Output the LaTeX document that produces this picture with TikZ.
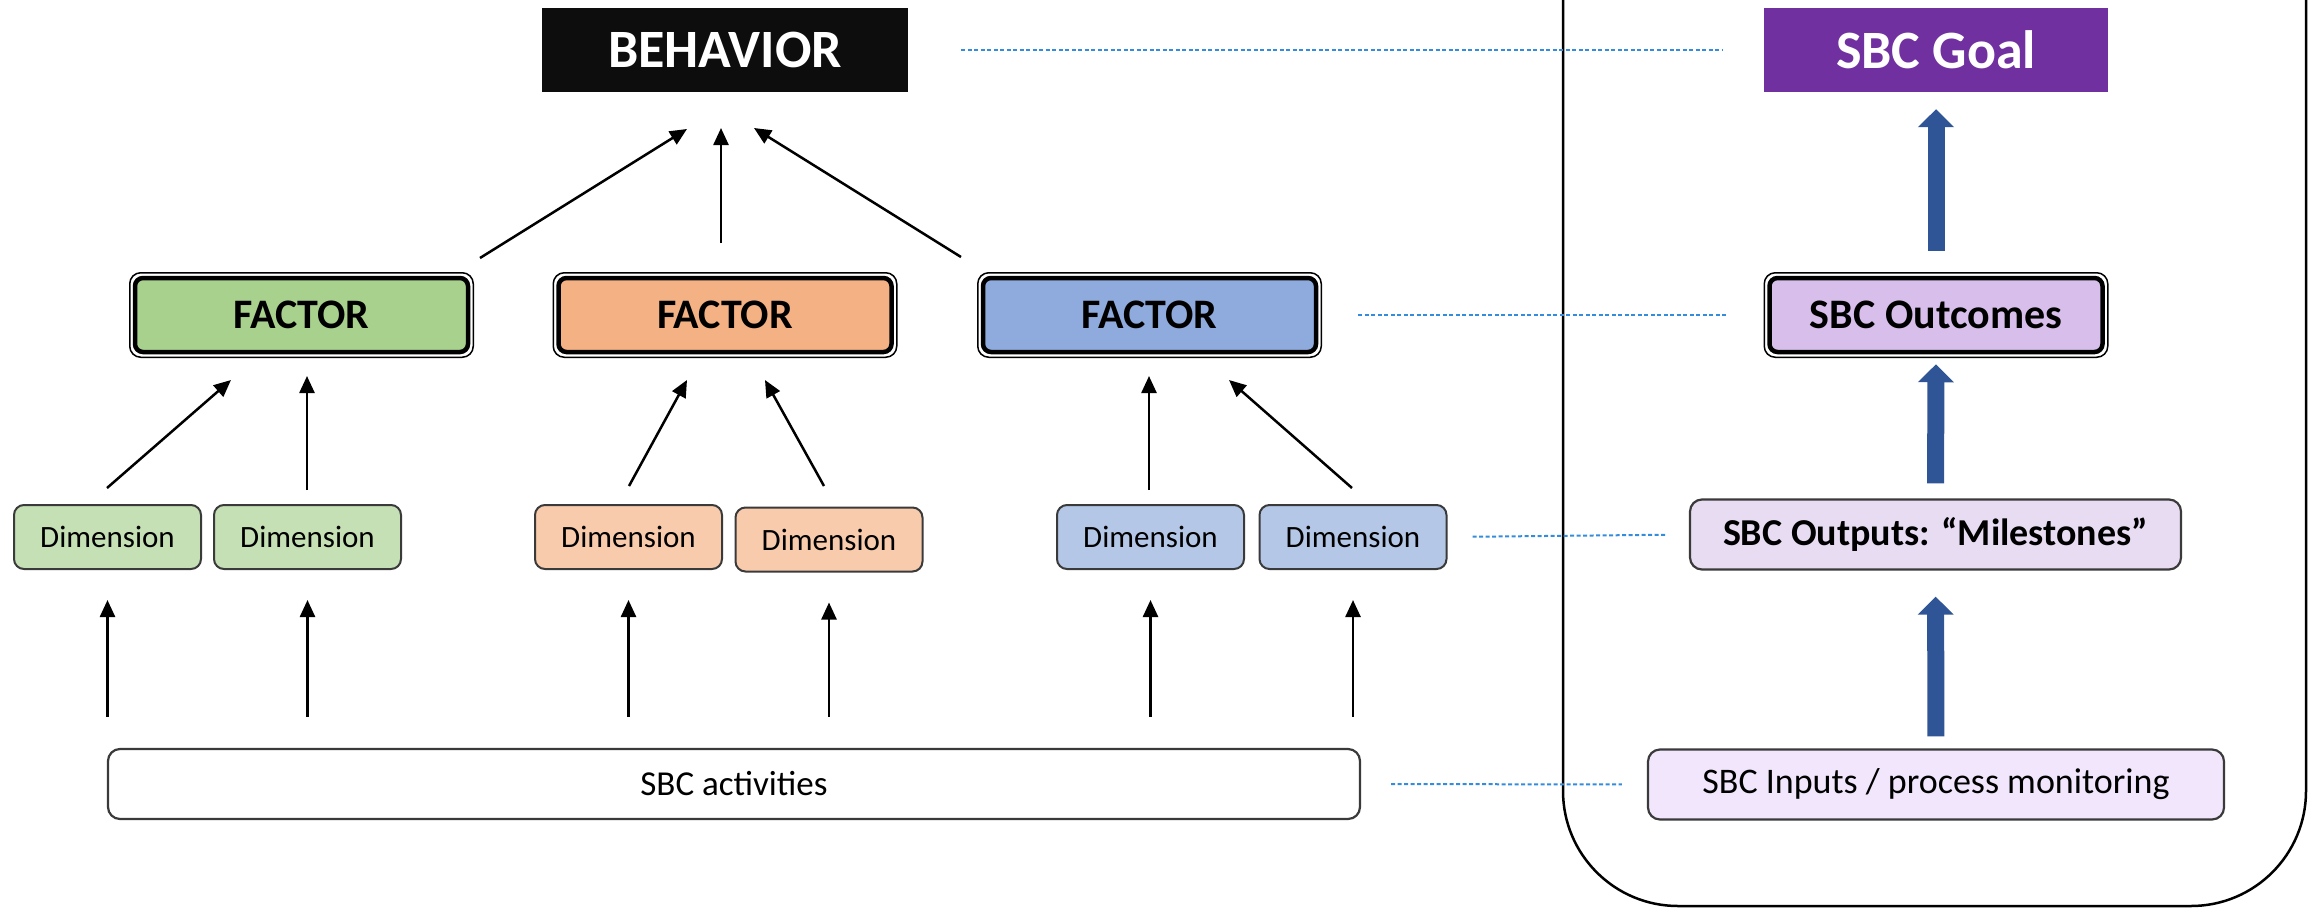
\documentclass[tikz,border=0pt]{standalone}
\usepackage{fontspec}
\setmainfont{Carlito}
\usetikzlibrary{arrows.meta,calc}
\definecolor{fgreen}{HTML}{A9D18E}
\definecolor{dgreen}{HTML}{C5E0B4}
\definecolor{forange}{HTML}{F4B183}
\definecolor{dorange}{HTML}{F8CBAD}
\definecolor{fblue}{HTML}{8FAADC}
\definecolor{dblue}{HTML}{B4C7E7}
\definecolor{goalpurple}{HTML}{7030A0}
\definecolor{outcomesfill}{HTML}{D8BFEB}
\definecolor{outputsfill}{HTML}{E8DCF3}
\definecolor{inputsfill}{HTML}{F1E6FC}
\definecolor{bigblue}{HTML}{2F5597}
\definecolor{dotblue}{HTML}{348CDC}
\definecolor{boxline}{HTML}{3A3A3A}
\begin{document}
\begin{tikzpicture}[x=1pt,y=-1pt,
  topbox/.style={rectangle, inner sep=0pt, minimum height=84pt, text=white, font=\bfseries\fontsize{54}{60}\selectfont},
  factorbox/.style={rectangle, draw=black, line width=4.5pt, rounded corners=8pt, minimum width=333pt, minimum height=74pt, inner sep=0pt, font=\bfseries\fontsize{42}{48}\selectfont},
  framebox/.style={draw=black, line width=1.5pt, rounded corners=11pt},
  dimbox/.style={rectangle, draw=boxline, line width=2pt, rounded corners=10pt, minimum width=187pt, minimum height=64pt, inner sep=0pt, font=\fontsize{31}{36}\selectfont},
  widebox/.style={rectangle, draw=boxline, line width=2.2pt, rounded corners=12pt, minimum height=70pt, inner sep=0pt},
  blk/.style={draw=black, line width=2.5pt, -{Triangle[length=17pt 0, width=15pt 0]}},
  bigarrow/.style={draw=bigblue, line width=17pt, -{Triangle[length=18pt 0, width=35pt 0]}},
  dotline/.style={draw=dotblue, line width=2pt, dash pattern=on 4pt off 2.5pt},
  container/.style={draw=black, line width=2.5pt, rounded corners=115pt}
]
\useasboundingbox (0,0) rectangle (2318,908);

% container
\draw[container] (1563,-5) -- (1563,906) -- (2306,906) -- (2306,-5);

% top boxes
\node[topbox, fill={rgb,255:red,13;green,13;blue,13}, minimum width=366pt] (beh) at (725,50) {BEHAVIOR};
\node[topbox, fill=goalpurple, minimum width=344pt] (goal) at (1936,50) {SBC Goal};

% factor boxes
\node[factorbox, fill=fgreen] (fg) at (301.5,315) {FACTOR};
\node[factorbox, fill=forange] (fo) at (725,315) {FACTOR};
\node[factorbox, fill=fblue] (fb) at (1149.5,315) {FACTOR};
\node[factorbox, fill=outcomesfill] (out) at (1936,315) {SBC Outcomes};
\foreach \n in {fg,fo,fb,out}{
  \draw[framebox] ($(\n.south west)+(-3,3)$) rectangle ($(\n.north east)+(3,-3)$);
}

% dimension boxes
\node[dimbox, fill=dgreen] (d1) at (107.5,537) {Dimension};
\node[dimbox, fill=dgreen] (d2) at (307.5,537) {Dimension};
\node[dimbox, fill=dorange] (d3) at (628.5,537) {Dimension};
\node[dimbox, fill=dorange] (d4) at (829,539.5) {Dimension};
\node[dimbox, fill=dblue] (d5) at (1150.5,537) {Dimension};
\node[dimbox, fill=dblue] (d6) at (1353,537) {Dimension};

% right column boxes
\node[widebox, fill=outputsfill, minimum width=491pt, font=\bfseries\fontsize{38}{44}\selectfont] (outp) at (1935.5,534.5) {SBC Outputs: “Milestones”};
\node[widebox, fill=inputsfill, minimum width=576pt, font=\fontsize{36}{42}\selectfont] (inp) at (1936,784.5) {SBC Inputs / process monitoring};
\node[widebox, fill=white, minimum width=1252pt, font=\fontsize{35}{42}\selectfont] (act) at (734,784) {SBC activities};

% arrow end coordinates
\coordinate (b1s) at (480,258); \coordinate (b1e) at (687,129);
\coordinate (b2s) at (721,243); \coordinate (b2e) at (721,128);
\coordinate (b3s) at (961,257); \coordinate (b3e) at (754,128);
\coordinate (f1s) at (107,488);  \coordinate (f1e) at (231,380);
\coordinate (f2s) at (307,490);  \coordinate (f2e) at (307,376);
\coordinate (f3s) at (629,486);  \coordinate (f3e) at (687,380);
\coordinate (f4s) at (824,486);  \coordinate (f4e) at (765,380);
\coordinate (f5s) at (1149,490); \coordinate (f5e) at (1149,376);
\coordinate (f6s) at (1352,488); \coordinate (f6e) at (1229,380);

% factors -> behavior
\draw[blk] (b1s) -- (b1e);
\draw[blk] (b2s) -- (b2e);
\draw[blk] (b3s) -- (b3e);

% dimensions -> factors
\foreach \i in {1,...,6}{ \draw[blk] (f\i s) -- (f\i e); }

% activities -> dimensions
\foreach \d in {d1,d2,d3,d4,d5,d6}{
  \draw[blk, shorten <=31pt, shorten >=30pt] (act.north -| \d.south) -- (\d.south);
}

% right column big arrows
\draw[bigarrow, shorten <=25pt, shorten >=17pt] (out.north) -- (goal.south);
\draw[bigarrow, shorten <=15pt, shorten >=10pt] (outp.north) -- (out.south);
\draw[bigarrow, shorten <=12pt, shorten >=26pt] (inp.north) -- (outp.south);

% dotted links
\draw[dotline, shorten <=53pt, shorten >=42pt] (beh.east) -- (goal.west);
\draw[dotline, shorten <=40pt, shorten >=40pt] (fb.east) -- (out.west);
\draw[dotline, shorten <=25pt, shorten >=22pt] (d6.east) -- (outp.west);
\draw[dotline, shorten <=30pt, shorten >=25pt] (act.east) -- (inp.west);
\end{tikzpicture}
\end{document}
